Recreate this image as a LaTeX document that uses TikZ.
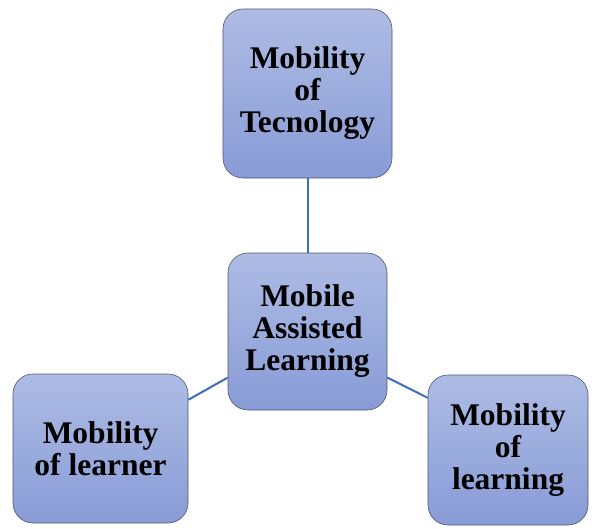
\documentclass[tikz,border=0pt]{standalone}
\usepackage{fontspec}
\setmainfont{Liberation Serif}
\usepackage{tikz}
\definecolor{boxtop}{RGB}{174,188,228}
\definecolor{boxbot}{RGB}{136,155,214}
\definecolor{boxline}{RGB}{80,86,108}
\definecolor{linkblue}{RGB}{62,108,190}

\begin{document}
\begin{tikzpicture}[x=1pt, y=-1pt,
    box/.style={draw=boxline, line width=0.6pt, rounded corners=20pt,
        top color=boxtop, bottom color=boxbot, align=center,
        inner sep=0pt, font=\bfseries\fontsize{31.5}{32}\selectfont},
    link/.style={linkblue, line width=2pt}]
    \useasboundingbox (0,0) rectangle (594,528);
    % Boxes
    \node[box, minimum width=169pt, minimum height=169pt] (tech) at (307.5,93.5) {Mobility\\of\\Tecnology};
    \node[box, minimum width=159pt, minimum height=157pt] (mal) at (307.5,331.5) {Mobile\\Assisted\\Learning};
    \node[box, minimum width=175pt, minimum height=149pt] (learner) at (100.5,448.5) {Mobility\\of learner};
    \node[box, minimum width=160pt, minimum height=150pt] (learning) at (508,450) {Mobility\\of\\learning};
    % Links to the centre box
    \draw[link] (tech.south) -- (mal.north);
    \draw[link] (mal.210) -- (learner.29);
    \draw[link] (mal.330) -- (learning.147);
\end{tikzpicture}
\end{document}
